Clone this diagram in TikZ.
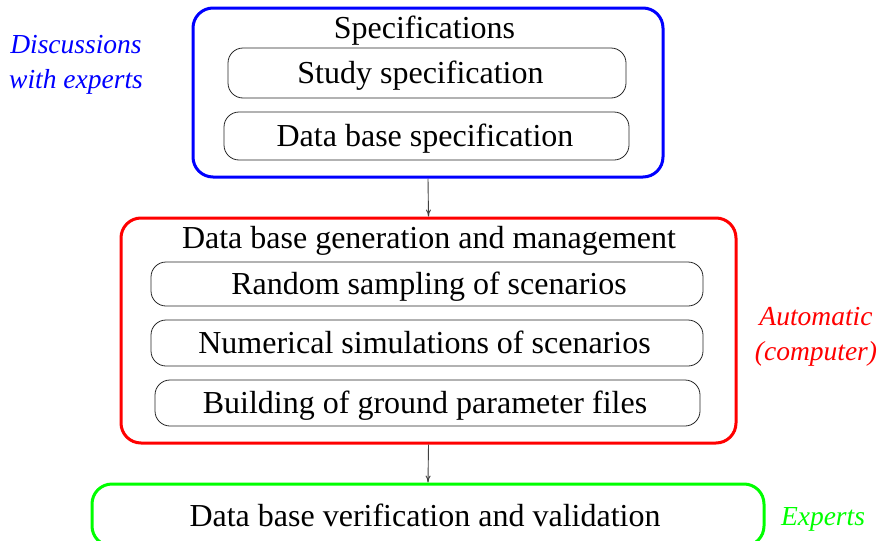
\documentclass[tikz,border=0pt]{standalone}
\usepackage{fontspec}
\setmainfont{Liberation Serif}
\usetikzlibrary{arrows.meta}
\begin{document}
\begin{tikzpicture}[x=1pt,y=-1pt,
  outer/.style={draw, line width=3pt, rounded corners=20pt, inner sep=0pt},
  txt/.style={inner sep=0pt, text height=27pt, text depth=7pt,
    font=\fontsize{32}{38}\selectfont},
  inner/.style={draw=black!85, line width=0.8pt, rounded corners=15pt, inner sep=0pt},
  side/.style={inner sep=0pt, align=center, font=\fontsize{27.5}{35}\selectfont\itshape},
  flow/.style={draw=black!75, line width=0.9pt, -{To[length=7pt,width=5pt]}}]
\useasboundingbox (0,0) rectangle (884,541);
\clip (0,0) rectangle (884,541);

% Specifications block
\node[outer, draw=blue, minimum width=470pt, minimum height=169pt] (spec) at (428,92.5) {};
\node[txt] (spectitle) at (424.5,28) {Specifications};
\node[inner, minimum width=398pt, minimum height=50pt] (study) at (427,73) {};
\node[txt] (studytext) at (420.5,73) {Study specification};
\node[inner, minimum width=405pt, minimum height=48pt] (dbspec) at (426.5,136) {};
\node[txt] (dbspectext) at (425,136) {Data base specification};

% Generation block
\node[outer, draw=red, minimum width=615pt, minimum height=225pt] (gen) at (428.5,330.5) {};
\node[txt] (gentitle) at (429,238) {Data base generation and management};
\node[inner, minimum width=552pt, minimum height=44pt] (random) at (427,284) {};
\node[txt] (randomtext) at (429,284) {Random sampling of scenarios};
\node[inner, minimum width=552pt, minimum height=46pt] (numeric) at (427,343) {};
\node[txt] (numerictext) at (424.5,343) {Numerical simulations of scenarios};
\node[inner, minimum width=545pt, minimum height=46pt] (build) at (427.5,403) {};
\node[txt] (buildtext) at (425,403) {Building of ground parameter files};

% Verification block
\node[outer, draw=green, minimum width=672pt, minimum height=62pt] (verif) at (428,515) {};
\node[txt] (veriftitle) at (425,516) {Data base verification and validation};

% Connectors
\draw[flow] (spec.south) -- (gen.north);
\draw[flow] (gen.south) -- (verif.north);

% Side labels
\node[side, text=blue] (discuss) at (76,65) {Discussions\\with experts};
\node[side, text=red] (auto) at (816,337) {Automatic\\(computer)};
\node[side, text=green] (experts) at (823,519) {Experts};
\end{tikzpicture}
\end{document}
